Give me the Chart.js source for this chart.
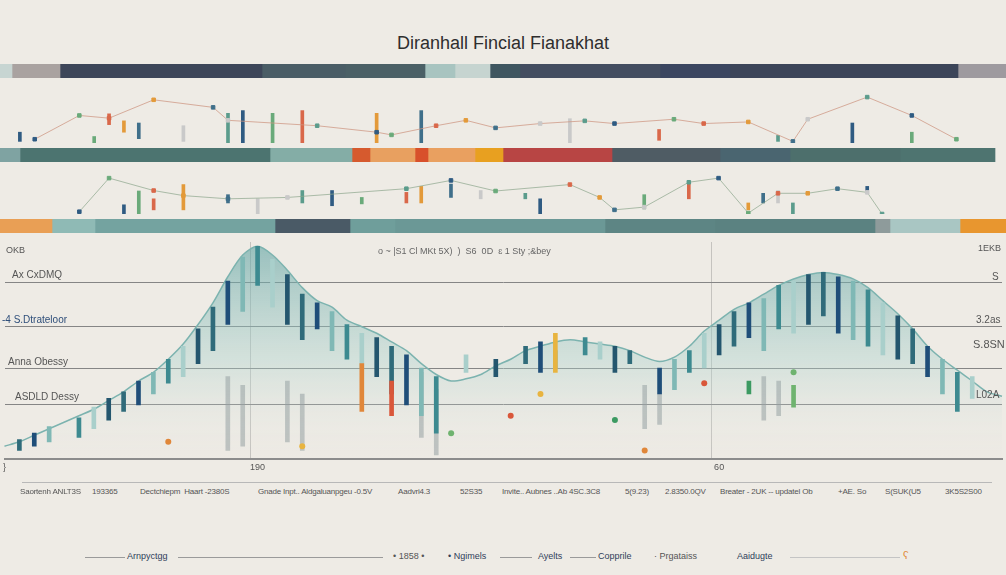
<!DOCTYPE html>
<html>
<head>
<meta charset="utf-8">
<script src="https://cdn.jsdelivr.net/npm/chart.js@4.4.1/dist/chart.umd.min.js"></script>
<style>
  html, body { margin: 0; padding: 0; }
  body { width: 1006px; height: 575px; background: #eeebe5; position: relative; overflow: hidden;
         font-family: "Liberation Sans", Arial, sans-serif; color: #444; }
  .box { position: absolute; left: 0; width: 1006px; }
  .t { position: absolute; white-space: nowrap; font-size: 9px; color: #555; }
  .low { font-size: 8px; letter-spacing: -0.2px; }
  .title { position: absolute; top: 33px; left: 0; width: 1006px; text-align: center;
           font-size: 18px; color: #2e2e2e; }
  .ln { position: absolute; height: 1px; background: #9a9a9a; }
</style>
</head>
<body>
<div class="title">Diranhall Fincial Fianakhat</div>

<div class="box" style="top:64px;height:14px"><canvas id="band1"></canvas></div>
<div class="box" style="top:84px;height:64px"><canvas id="row1"></canvas></div>
<div class="box" style="top:148px;height:14px"><canvas id="band2"></canvas></div>
<div class="box" style="top:163px;height:56px"><canvas id="row2"></canvas></div>
<div class="box" style="top:219px;height:14px"><canvas id="band3"></canvas></div>
<div class="box" style="top:238px;height:238px"><canvas id="main"></canvas></div>

<!-- axis labels in the main panel -->
<div class="t" style="left:6px;top:245px">OKB</div>
<div class="t" style="left:12px;top:269px;font-size:10px">Ax CxDMQ</div>
<div class="t" style="left:2px;top:314px;font-size:10px;color:#2f4f7a">-4 S.Dtrateloor</div>
<div class="t" style="left:8px;top:356px;font-size:10px">Anna Obessy</div>
<div class="t" style="left:15px;top:391px;font-size:10px">ASDLD Dessy</div>
<div class="t" style="left:978px;top:243px">1EKB</div>
<div class="t" style="left:992px;top:271px;font-size:10px">S</div>
<div class="t" style="left:976px;top:314px;font-size:10px">3.2as</div>
<div class="t" style="left:973px;top:338px;font-size:11px">S.8SN</div>
<div class="t" style="left:976px;top:389px;font-size:10px">L02A</div>
<div class="t" style="left:378px;top:246px;color:#666">o ~ |S1 Cl MKt 5X) &nbsp;) &nbsp;S6 &nbsp;0D &nbsp;ɛ 1 Sty ;&amp;bey</div>

<!-- lower label row -->
<div class="ln" style="left:22px;top:482px;width:970px;background:#b8b8b8"></div>
<div class="t low" style="left:20px;top:487px">Saortenh ANLT3S</div>
<div class="t low" style="left:92px;top:487px">193365</div>
<div class="t low" style="left:140px;top:487px">Dectchiepm &nbsp;Haart -2380S</div>
<div class="t low" style="left:258px;top:487px">Gnade Inpt.. Aldgaluanpgeu -0.5V</div>
<div class="t low" style="left:398px;top:487px">Aadvri4.3</div>
<div class="t low" style="left:460px;top:487px">52S35</div>
<div class="t low" style="left:502px;top:487px">Invite.. Aubnes ..Ab 4SC.3C8</div>
<div class="t low" style="left:625px;top:487px">5(9.23)</div>
<div class="t low" style="left:665px;top:487px">2.8350.0QV</div>
<div class="t low" style="left:720px;top:487px">Breater - 2UK -- updatel Ob</div>
<div class="t low" style="left:838px;top:487px">+AE. So</div>
<div class="t low" style="left:885px;top:487px">S(SUK(U5</div>
<div class="t low" style="left:945px;top:487px">3K5S2S00</div>

<!-- legend row -->
<div class="ln" style="left:85px;top:557px;width:40px"></div>
<div class="t" style="left:127px;top:551px;color:#2f3e5a">Arnpyctgg</div>
<div class="ln" style="left:178px;top:557px;width:205px"></div>
<div class="t" style="left:393px;top:551px">• 1858 •</div>
<div class="t" style="left:448px;top:551px;color:#2f3e5a">• Ngimels</div>
<div class="ln" style="left:500px;top:557px;width:32px"></div>
<div class="t" style="left:538px;top:551px;color:#2f3e5a">Ayelts</div>
<div class="ln" style="left:570px;top:557px;width:26px"></div>
<div class="t" style="left:598px;top:551px;color:#2f3e5a">Copprile</div>
<div class="t" style="left:654px;top:551px">· Prgataiss</div>
<div class="t" style="left:737px;top:551px;color:#2f3e5a">Aaidugte</div>
<div class="ln" style="left:790px;top:557px;width:110px;background:#c4c4c4"></div>
<div class="t" style="left:903px;top:549px;color:#e08a3a;font-size:11px">ʕ</div>

<script>
// ---- data ----
const categories = Array.from({ length: 68 }, (_, i) => i);
const xTickText = { 0: '}', 17: '190', 48: '60' };
const gridValues = [25.2, 41.7, 61, 81.2];

// main hump outline (0-100 scale)
const areaValues = [6, 8, 11, 14, 17, 20, 23, 27, 31, 36, 40, 46, 53, 62, 72, 84, 94, 98, 94, 87,
  79, 73, 70, 64, 61, 58, 54, 50, 44, 39, 36, 37, 39, 43, 46, 50, 52, 54, 55, 54,
  53, 52, 50, 47, 45, 47, 52, 59, 64, 69, 72, 76, 80, 83, 85, 86, 85, 83, 79, 73,
  67, 60, 52, 46, 41, 36, 31, 29];

// [index, low, high]
const candleBars = [[1, 4, 9], [2, 6, 12], [3, 8, 15], [5, 10, 19], [6, 14, 24], [7, 18, 28], [8, 22, 31],
  [9, 25, 36], [10, 30, 40], [11, 35, 46], [12, 38, 52], [13, 44, 60], [14, 50, 70], [15, 62, 82],
  [16, 68, 93], [17, 80, 98], [18, 70, 92], [19, 62, 85], [20, 55, 76], [21, 60, 72], [22, 50, 68],
  [23, 46, 62], [24, 42, 58], [25, 38, 56], [26, 30, 52], [27, 25, 48], [28, 20, 42], [29, 12, 38],
  [31, 40, 48], [33, 38, 46], [35, 44, 52], [36, 40, 54], [37, 42, 50], [39, 48, 56], [40, 46, 54],
  [41, 40, 52], [42, 44, 50], [44, 30, 42], [45, 32, 46], [46, 40, 50], [47, 42, 58], [48, 48, 62],
  [49, 52, 68], [50, 56, 72], [51, 50, 74], [52, 60, 80], [53, 58, 82], [54, 62, 85], [55, 66, 86],
  [56, 58, 84], [57, 55, 82], [58, 52, 78], [59, 48, 72], [60, 46, 66], [61, 44, 60], [62, 38, 52],
  [63, 30, 46], [64, 22, 40], [65, 28, 38]];
const greyBars = [[15, 4, 38], [16, 6, 34], [19, 8, 36], [20, 4, 30], [28, 10, 40], [29, 2, 32],
  [43, 14, 34], [44, 16, 30], [51, 18, 38], [52, 20, 36]];
const accentBars = [[24, 22, 44], [37, 40, 58], [53, 24, 34], [26, 20, 36], [50, 30, 36]];
// [index, value]
const dots = [[11, 8], [20, 6], [30, 12], [34, 20], [41, 18], [43, 4], [36, 30], [53, 40], [47, 35]];

// upper small rows
const row1Line = [[2, 7], [5, 51], [7, 46], [10, 80], [14, 66], [15, 42], [21, 32], [25, 20], [26, 15],
  [29, 32], [31, 42], [33, 28], [36, 36], [39, 41], [41, 36], [45, 44], [47, 36], [50, 39], [53, 3],
  [54, 44], [58, 85], [61, 51], [64, 7]];
const row1Marks = [[1, 3, 20], [6, 0, 12], [7, 34, 54], [8, 20, 41], [9, 8, 37], [12, 3, 32],
  [15, 0, 55], [16, 0, 60], [18, 0, 55], [20, 0, 60], [25, 0, 55], [28, 0, 60], [38, 0, 45],
  [52, 3, 14], [57, 0, 37], [61, 0, 20], [44, 5, 25]];
const row2Line = [[5, 5], [7, 78], [10, 51], [12, 40], [15, 33], [19, 36], [27, 55], [30, 73],
  [33, 50], [38, 64], [40, 36], [41, 9], [43, 15], [46, 69], [48, 78], [50, 2], [52, 45], [54, 45],
  [56, 55], [58, 47], [59, 0]];
const row2Marks = [[8, 0, 20], [9, 0, 50], [10, 9, 33], [12, 9, 64], [15, 24, 42], [17, 0, 33],
  [20, 24, 51], [22, 18, 51], [24, 22, 36], [27, 24, 47], [28, 24, 60], [30, 36, 65], [32, 33, 51],
  [35, 33, 45], [36, 0, 33], [43, 11, 42], [46, 33, 69], [50, 9, 24], [51, 24, 45], [52, 24, 51],
  [53, 0, 24], [58, 50, 60]];

// horizontal strips: segment widths (px on a 0-1006 scale)
const band1Segments = [12, 48, 202, 83, 80, 30, 35, 30, 140, 70, 228, 48];
const band2Segments = [20, 250, 82, 18, 45, 13, 47, 28, 109, 108, 70, 110, 95];
const band3Segments = [52, 43, 180, 75, 45, 210, 110, 160, 15, 70, 46];

// ---- styles ----
const band1Colors = ['#c7d5d2', '#a9a2a0', '#3d4659', '#4a5d66', '#4b6066', '#a8c4c0', '#c6d4d0',
  '#3f5660', '#434d60', '#3b4660', '#3c4559', '#9e9a9f'];
const band2Colors = ['#7fa3a2', '#4c7470', '#84ada6', '#d65a2e', '#e8a060', '#d8502b', '#e9a060',
  '#e8a020', '#b84544', '#4f5c64', '#4a6570', '#4d6f6c', '#4e7470'];
const band3Colors = ['#e99f55', '#8fbab5', '#74a3a0', '#4a5a66', '#6f9e9b', '#6b9896', '#5d8584',
  '#5b8281', '#8e9b9b', '#a9c6c3', '#e8962f'];
const candleColors = ['#2f6b7a', '#1f4e79', '#7fb8b5', '#3d8a90', '#a9cfcb', '#24566e'];
const accentColors = ['#e0873a', '#e8b440', '#6fb36f', '#d9573a', '#3c9a62'];
const markColors = ['#2f5b82', '#6aaa7a', '#d9684a', '#e39a3a', '#3f6f8a', '#c9c9c9', '#5b9c8c'];

Chart.defaults.animation = false;
Chart.defaults.responsive = true;
Chart.defaults.maintainAspectRatio = false;
Chart.defaults.plugins.legend.display = false;
Chart.defaults.plugins.tooltip.enabled = false;
Chart.defaults.font.family = "'Liberation Sans', Arial, sans-serif";

function toSeries(rows) {
  const out = categories.map(() => null);
  rows.forEach(r => { out[r[0]] = r.length > 2 ? [r[1], r[2]] : r[1]; });
  return out;
}
function colorsFor(rows, palette) {
  const out = categories.map(() => 'transparent');
  rows.forEach((r, k) => { out[r[0]] = palette[k % palette.length]; });
  return out;
}

// strip builder
function drawBand(id, segments, colors) {
  new Chart(document.getElementById(id), {
    type: 'bar',
    data: {
      labels: [''],
      datasets: segments.map((w, i) => ({
        data: [w], backgroundColor: colors[i], borderWidth: 0,
        barPercentage: 1, categoryPercentage: 1
      }))
    },
    options: {
      indexAxis: 'y',
      layout: { padding: 0 },
      scales: {
        x: { stacked: true, display: false, min: 0, max: 1006 },
        y: { stacked: true, display: false }
      }
    }
  });
}
drawBand('band1', band1Segments, band1Colors);
drawBand('band2', band2Segments, band2Colors);
drawBand('band3', band3Segments, band3Colors);

// small rows
function drawRow(id, lineRows, markRows, lineColor) {
  new Chart(document.getElementById(id), {
    type: 'bar',
    data: {
      labels: categories,
      datasets: [
        {
          type: 'line', data: toSeries(lineRows), spanGaps: true,
          borderColor: lineColor, borderWidth: 1, tension: 0,
          pointStyle: 'rect', pointRadius: 2.5,
          pointBackgroundColor: colorsFor(lineRows, markColors),
          pointBorderColor: colorsFor(lineRows, markColors)
        },
        {
          data: toSeries(markRows), grouped: false, barThickness: 3,
          backgroundColor: colorsFor(markRows, markColors)
        }
      ]
    },
    options: {
      layout: { padding: { top: 3, bottom: 0 } },
      scales: {
        x: { display: false, offset: false },
        y: { display: false, min: 0, max: 100 }
      }
    }
  });
}
drawRow('row1', row1Line, row1Marks, 'rgba(205,150,130,0.75)');
drawRow('row2', row2Line, row2Marks, 'rgba(140,165,140,0.7)');

// main panel
new Chart(document.getElementById('main'), {
  type: 'bar',
  data: {
    labels: categories,
    datasets: [
      {
        type: 'line', data: areaValues, fill: 'origin', tension: 0.3,
        borderColor: '#7cb3af', borderWidth: 1.5, pointRadius: 0, order: 5,
        backgroundColor: ctx => {
          const area = ctx.chart.chartArea;
          if (!area) return 'rgba(120,180,175,0.3)';
          const g = ctx.chart.ctx.createLinearGradient(0, area.top, 0, area.bottom);
          g.addColorStop(0, 'rgba(90,160,160,0.6)');
          g.addColorStop(0.55, 'rgba(170,210,205,0.38)');
          g.addColorStop(1, 'rgba(238,235,229,0)');
          return g;
        }
      },
      { data: toSeries(greyBars), grouped: false, barThickness: 4, order: 4,
        backgroundColor: 'rgba(150,160,162,0.55)' },
      { data: toSeries(candleBars), grouped: false, barThickness: 4, order: 3,
        backgroundColor: colorsFor(candleBars, candleColors) },
      { data: toSeries(accentBars), grouped: false, barThickness: 4, order: 2,
        backgroundColor: colorsFor(accentBars, accentColors) },
      { type: 'line', data: toSeries(dots), showLine: false, order: 1,
        pointRadius: 3, pointBackgroundColor: colorsFor(dots, accentColors), pointBorderWidth: 0 }
    ]
  },
  options: {
    layout: { padding: { top: 2, left: 0, right: 0 } },
    scales: {
      x: {
        offset: false,
        border: { color: '#8c8c8c', width: 2 },
        grid: {
          drawTicks: false,
          color: c => (xTickText[c.index] && c.index > 0) ? 'rgba(120,120,120,0.35)' : 'transparent'
        },
        ticks: {
          autoSkip: false, maxRotation: 0, padding: 3, color: '#555', font: { size: 9 },
          callback: (v, i) => xTickText[i] || ''
        }
      },
      y: {
        min: 0, max: 100,
        afterBuildTicks: axis => { axis.ticks = gridValues.map(v => ({ value: v })); },
        border: { display: false },
        grid: { color: '#858585', lineWidth: 1, drawTicks: false },
        ticks: { display: false }
      }
    }
  }
});
</script>
</body>
</html>
